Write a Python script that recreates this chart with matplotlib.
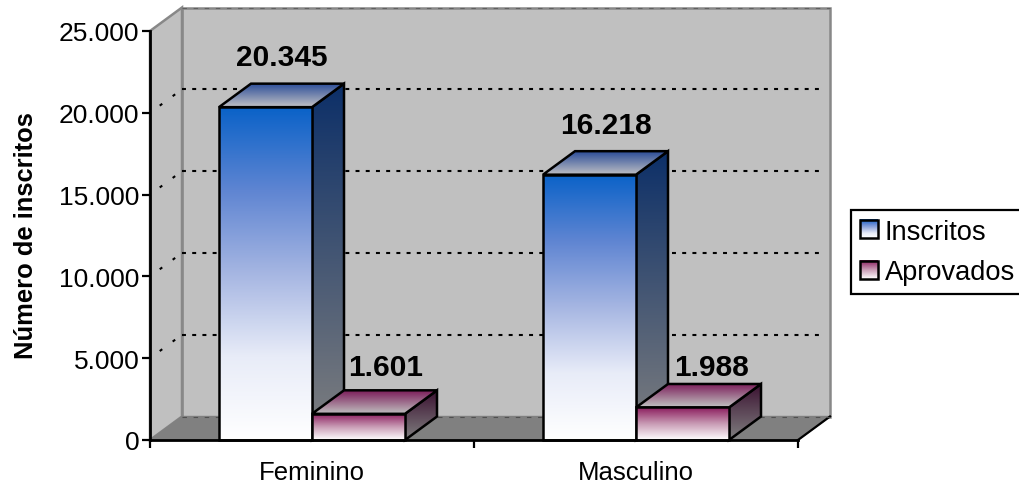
import numpy as np
import matplotlib
matplotlib.use('Agg')
import matplotlib.pyplot as plt
from matplotlib.colors import LinearSegmentedColormap
from matplotlib.image import BboxImage
from matplotlib.legend_handler import HandlerBase
from matplotlib.patches import Patch, Polygon, Rectangle
from matplotlib.transforms import Bbox, TransformedBbox

# ==================== data ====================
categories = ['Feminino', 'Masculino']
series_names = ['Inscritos', 'Aprovados']
inscritos = [20345, 16218]
aprovados = [1601, 1988]
inscritos_labels = ['20.345', '16.218']
aprovados_labels = ['1.601', '1.988']
y_ticks = [0, 5000, 10000, 15000, 20000, 25000]
y_tick_labels = ['0', '5.000', '10.000', '15.000', '20.000', '25.000']

# ==================== style ====================
plt.rcParams['font.family'] = ['Liberation Sans', 'DejaVu Sans']

W, H = 1019, 485
X0, X1, Y0, Y1 = 150, 798, 441, 32   # front plane, pixels

# depth of the fake 3d box, in data units
DX = 32 / 324
DY = 23.5 / 409 * 25000
BAR_W = 93 / 324
BAR_START = 69 / 324

blue_front = LinearSegmentedColormap.from_list('bf', ['#ffffff', '#e8ecf8', '#a6b6e2', '#5f85d2', '#0a62c8'])
blue_side = LinearSegmentedColormap.from_list('bs', ['#808080', '#0c2f68'])
blue_top = LinearSegmentedColormap.from_list('bt', ['#c0c0c4', '#2a4c98'])
wine_front = LinearSegmentedColormap.from_list('wf', ['#ffffff', '#c89ab4', '#8a1a5c'])
wine_side = LinearSegmentedColormap.from_list('ws', ['#808080', '#3a1030'])
wine_top = LinearSegmentedColormap.from_list('wt', ['#c0c0c0', '#7a1a58'])

fig = plt.figure(figsize=(W / 100, H / 100), dpi=100)
ax = fig.add_axes([X0 / W, 1 - Y0 / H, (X1 - X0) / W, (Y0 - Y1) / H])
ax.set_xlim(0, 2)
ax.set_ylim(0, 25000)
ax.patch.set_visible(False)


def face(pts, cmap, z):
    # vertical gradient clipped to a polygon
    pts = np.array(pts)
    grad = np.linspace(1, 0, 256).reshape(-1, 1)
    im = ax.imshow(grad, cmap=cmap, vmin=0, vmax=1, aspect='auto', zorder=z,
                   extent=(pts[:, 0].min(), pts[:, 0].max(), pts[:, 1].min(), pts[:, 1].max()))
    poly = Polygon(pts, closed=True, fc='none', ec='black', lw=1.8, zorder=z + 0.1,
                   clip_on=False, joinstyle='miter')
    ax.add_patch(poly)
    im.set_clip_box(None)
    im.set_clip_path(Polygon(pts, closed=True, transform=ax.transData))


def bar3d(x, w, v, cm_front, cm_side, cm_top, z):
    face([(x + w, 0), (x + w + DX, DY), (x + w + DX, v + DY), (x + w, v)], cm_side, z)
    face([(x, v), (x + w, v), (x + w + DX, v + DY), (x + DX, v + DY)], cm_top, z + 0.2)
    face([(x, 0), (x + w, 0), (x + w, v), (x, v)], cm_front, z + 0.4)


# ==================== walls ====================
wall = dict(fc='#c0c0c0', ec='#888888', lw=1.8, clip_on=False, zorder=1)
ax.add_patch(Polygon([(DX, DY), (2 + DX, DY), (2 + DX, 25000 + DY), (DX, 25000 + DY)], **wall))
ax.add_patch(Polygon([(0, 0), (DX, DY), (DX, 25000 + DY), (0, 25000)], **wall))
ax.add_patch(Polygon([(0, 0), (2, 0), (2 + DX, DY), (DX, DY)], fc='#808080', ec='#808080',
                     lw=1, clip_on=False, zorder=1.1))
ax.plot([2, 2 + DX], [0, DY], color='black', lw=1.6, clip_on=False, zorder=2)

dots = dict(color='black', lw=1.5, dashes=(1.9, 3.0), clip_on=False, zorder=2)
for t in y_ticks[1:-1]:
    ax.plot([DX, 2 + DX - 0.02], [t + DY, t + DY], **dots)
    ax.plot([0, DX], [t, t + DY], color='black', lw=1.5, ls=(1.9, (1.5, 6.2)), clip_on=False, zorder=2)
ax.plot([DX, 2 + DX], [25000 + DY] * 2, color='#606060', lw=0.8, dashes=(4, 6), clip_on=False, zorder=2)
ax.plot([DX, 2 + DX], [DY, DY], color='#505050', lw=0.8, dashes=(4, 6), clip_on=False, zorder=2)

# ==================== bars ====================
label_opts = dict(ha='center', va='center', fontsize=21.5, fontweight='bold', color='black',
                  textcoords='offset pixels', annotation_clip=False, zorder=20)
ins_off = [(0, 27), (0, 26)]
apr_off = [(11, 23), (13, 17)]
for i in range(len(categories)):
    x = i + BAR_START
    bar3d(x, BAR_W, inscritos[i], blue_front, blue_side, blue_top, 3 + i * 2)
    bar3d(x + BAR_W, BAR_W, aprovados[i], wine_front, wine_side, wine_top, 4 + i * 2)
    ax.annotate(inscritos_labels[i], (x + BAR_W / 2 + DX / 2, inscritos[i] + DY),
                xytext=ins_off[i], **label_opts)
    ax.annotate(aprovados_labels[i], (x + BAR_W * 1.5 + DX / 2, aprovados[i] + DY),
                xytext=apr_off[i], **label_opts)

# ==================== axes ====================
for s in ['top', 'right']:
    ax.spines[s].set_visible(False)
for s in ['left', 'bottom']:
    ax.spines[s].set_linewidth(2)
    ax.spines[s].set_zorder(15)
ax.set_yticks(y_ticks)
ax.set_yticklabels(y_tick_labels, fontsize=19)
ax.tick_params(axis='y', length=6, width=1.6, pad=1.5)
ax.set_xticks([0, 1, 2])
ax.set_xticklabels([])
ax.set_xticks([i + 0.5 for i in range(len(categories))], minor=True)
ax.set_xticklabels(categories, minor=True, fontsize=18.5)
ax.tick_params(axis='x', which='major', length=6, width=1.6)
ax.tick_params(axis='x', which='minor', length=0, pad=14.5)
ax.set_ylabel('Número de inscritos', fontsize=18.4, fontweight='bold', labelpad=0)
ax.yaxis.set_label_coords(38.5 / W, 1 - 236 / H, transform=fig.transFigure)
ax.set_xlim(0, 2)
ax.set_ylim(0, 25000)


# ==================== legend ====================
class GradHandler(HandlerBase):
    def __init__(self, cmap):
        super().__init__()
        self.cmap = cmap

    def create_artists(self, legend, orig, xd, yd, w, h, fontsize, trans):
        box = Bbox.from_bounds(-xd, -yd, w, h)
        im = BboxImage(TransformedBbox(box, trans), cmap=self.cmap, origin='upper',
                       norm=plt.Normalize(0, 1), interpolation='bilinear')
        im.set_data(np.linspace(1, 0, 64).reshape(-1, 1))
        rect = Rectangle((-xd, -yd), w, h, fc='none', ec='black', lw=1.8, transform=trans)
        return [im, rect]


h1 = Patch(label=series_names[0])
h2 = Patch(label=series_names[1])
leg = fig.legend(handles=[h1, h2], loc='upper left', bbox_to_anchor=(851 / W, 1 - 211 / H),
                 borderaxespad=0, fontsize=19.6, frameon=True, fancybox=False, framealpha=1,
                 edgecolor='black', handlelength=0.66, handleheight=0.66, handletextpad=0.26,
                 labelspacing=0.54, borderpad=0.32,
                 handler_map={h1: GradHandler(blue_front), h2: GradHandler(wine_front)})
leg.get_frame().set_linewidth(1.6)

fig.savefig('out.png', dpi=100)
